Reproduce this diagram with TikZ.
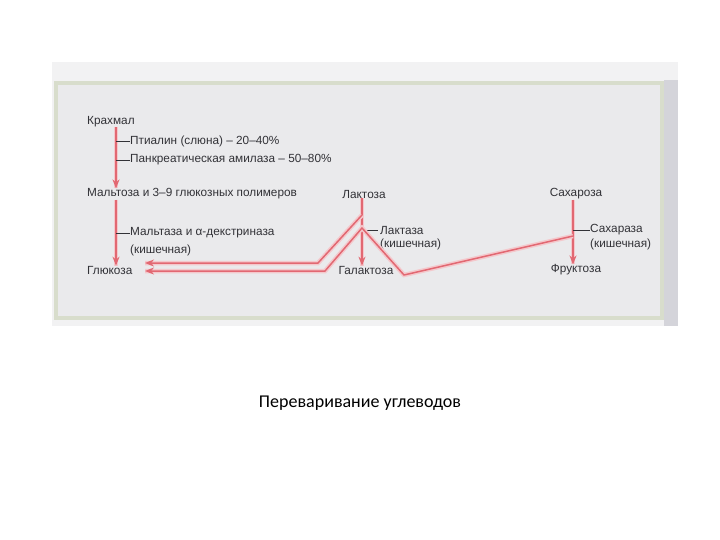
\documentclass[tikz,border=0pt]{standalone}
\usepackage{fontspec}
\setmainfont{Liberation Sans}
\newfontfamily\capfont{Carlito}
\usetikzlibrary{arrows.meta}
\definecolor{lred}{RGB}{226,104,114}
\definecolor{lpink}{RGB}{244,200,204}
\definecolor{txt}{RGB}{50,50,55}
\definecolor{panel}{RGB}{234,234,236}
\definecolor{outer}{RGB}{242,242,243}
\definecolor{gband}{RGB}{216,221,204}
\definecolor{rstrip}{RGB}{212,212,218}
\tikzset{
  lbl/.style={anchor=west,inner sep=0pt,font=\fontsize{11.8}{14}\selectfont,text=txt},
  clbl/.style={anchor=center,inner sep=0pt,font=\fontsize{11.8}{14}\selectfont,text=txt},
  redline/.style={draw=lred,line width=1.5pt,line join=round,
    preaction={draw=lpink,line width=4.5pt,-}},
  redarrow/.style={redline,-{Stealth[length=9pt,width=7pt]}},
  tickline/.style={draw=txt,line width=0.8pt}
}
\begin{document}
\begin{tikzpicture}[x=1pt,y=-1pt]
\useasboundingbox (0,0) rectangle (720,540);
\fill[white] (0,0) rectangle (720,540);
% panel
\fill[outer] (52,62) rectangle (678,326);
\fill[rstrip] (664,80) rectangle (678,326);
\fill[panel] (56,82) rectangle (664,320);
\draw[gband,line width=4pt] (56,83) rectangle (662,318);
% coordinates for spines
\coordinate (xa) at (116,0);
\coordinate (xl) at (362,0);
\coordinate (xs) at (573,0);
% texts
\node[lbl] (krahmal) at (87,122) {Крахмал};
\node[lbl] (ptyalin) at (130,141) {Птиалин (слюна) – 20–40\%};
\node[lbl] (pankr) at (130,160) {Панкреатическая амилаза – 50–80\%};
\node[lbl] (maltose) at (87,194) {Мальтоза и 3–9 глюкозных полимеров};
\node[lbl] (maltase) at (130,233) {Мальтаза и α-декстриназа};
\node[lbl] (maltase2) at (130,250) {(кишечная)};
\node[lbl] (glucose) at (87,270) {Глюкоза};
\node[clbl] (lactose) at (364,194) {Лактоза};
\node[clbl] (galactose) at (366,270) {Галактоза};
\node[lbl] (lactase) at (380,230) {Лактаза};
\node[lbl] (lactase2) at (380,244) {(кишечная)};
\node[clbl] (sucrose) at (576,194) {Сахароза};
\node[clbl] (fructose) at (576,270) {Фруктоза};
\node[lbl] (sucrase) at (590,230) {Сахараза};
\node[lbl] (sucrase2) at (590,244) {(кишечная)};
\node[anchor=center,inner sep=0pt,font=\capfont\fontsize{18}{20}\selectfont,text=black] (caption) at (360,403) {Переваривание углеводов};
% coordinates of the red paths
\coordinate (la) at (362,215);
\coordinate (lb) at (362,228);
\coordinate (ua) at (318,263);
\coordinate (ub) at (325,271);
\coordinate (ga) at (145,263);
\coordinate (gb) at (145,271);
\coordinate (vb) at (404,275);
\coordinate (sa) at (573,236);
% spines
\draw[redarrow] (krahmal.south -| xa) -- (maltose.north -| xa);
\draw[redarrow] (maltose.south -| xa) -- (glucose.north -| xa);
\draw[redarrow] (lactose.south -| xl) -- (galactose.north -| xl);
\draw[redarrow] (sucrose.south -| xs) -- (fructose.north -| xs);
% ticks
\draw[tickline] (ptyalin.west -| xa) -- (ptyalin.west);
\draw[tickline] (pankr.west -| xa) -- (pankr.west);
\draw[tickline] (maltase.west -| xa) -- (maltase.west);
\draw[tickline] ([xshift=-1pt]lactase.west -| xl) -- ([xshift=-2pt]lactase.west);
\draw[tickline] (sucrase.west -| xs) -- (sucrase.west);
% red paths
\draw[redarrow] (la) -- (ua) -- (ga);
\draw[redarrow] (sa) -- (vb) -- (lb) -- (ub) -- (gb);
\end{tikzpicture}
\end{document}
